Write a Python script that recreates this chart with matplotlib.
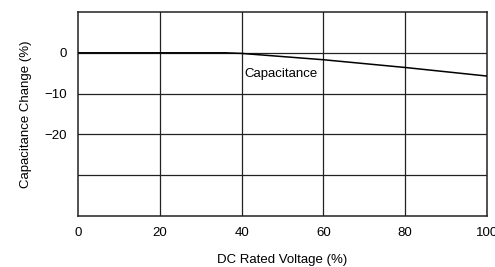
import matplotlib
matplotlib.use('Agg')
import matplotlib.pyplot as plt

plt.rcParams['font.family'] = ['Liberation Sans', 'DejaVu Sans']

voltage = [0, 36, 40, 60, 80, 100]
cap_change = [0, 0, -0.15, -1.7, -3.6, -5.7]
x_ticks = [0, 20, 40, 60, 80, 100]
y_ticks = [0, -10, -20]
y_grid = [0, -10, -20, -30]

fig = plt.figure(figsize=(4.95, 2.67), dpi=100)
ax = fig.add_axes([78 / 495, 1 - 216 / 267, 409 / 495, 204 / 267])

ax.set_xlim(0, 100)
ax.set_ylim(-40, 10)

for gx in x_ticks[1:-1]:
    ax.axvline(gx, color='#222222', lw=0.9, zorder=1)
for gy in y_grid:
    ax.axhline(gy, color='#222222', lw=0.9, zorder=1)

ax.plot(voltage, cap_change, color='black', lw=1.1, zorder=3)
ax.text(40.8, -5.2, 'Capacitance', fontsize=9.5, va='center', ha='left', zorder=4)

ax.set_xticks(x_ticks)
ax.set_xticklabels([str(v) for v in x_ticks])
ax.set_yticks(y_ticks)
ax.set_yticklabels(['0', '\u221210', '\u221220'])
ax.tick_params(length=0, labelsize=9.5, pad=8)
ax.tick_params(axis='x', pad=8)

for s in ax.spines.values():
    s.set_linewidth(1.1)
    s.set_color('#222222')

ax.set_xlabel('DC Rated Voltage (%)', fontsize=9.5, labelpad=11)
ax.set_ylabel('Capacitance Change (%)', fontsize=9.5, labelpad=9)

fig.savefig('out.png', dpi=100)
